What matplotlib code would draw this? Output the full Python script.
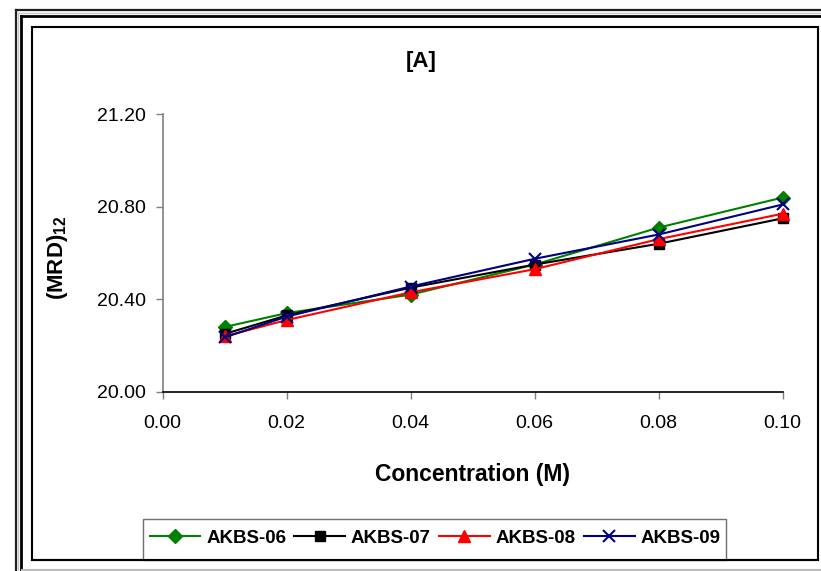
import matplotlib
matplotlib.use("Agg")
import matplotlib.pyplot as plt
from matplotlib.lines import Line2D
from matplotlib.patches import Rectangle

plt.rcParams['font.family'] = ['Liberation Sans', 'DejaVu Sans']
plt.rcParams['mathtext.fontset'] = 'custom'
plt.rcParams['mathtext.rm'] = 'Liberation Sans'
plt.rcParams['mathtext.bf'] = 'Liberation Sans:bold'

# Concentration (M) and molar refraction values per sample
concentration = [0.01, 0.02, 0.04, 0.06, 0.08, 0.10]
akbs_06 = [20.28, 20.34, 20.42, 20.55, 20.71, 20.84]
akbs_07 = [20.25, 20.33, 20.45, 20.55, 20.64, 20.75]
akbs_08 = [20.24, 20.31, 20.43, 20.53, 20.66, 20.77]
akbs_09 = [20.235, 20.325, 20.455, 20.575, 20.68, 20.81]

series_names = ["AKBS-06", "AKBS-07", "AKBS-08", "AKBS-09"]
x_ticks = [0.00, 0.02, 0.04, 0.06, 0.08, 0.10]
y_ticks = [20.00, 20.40, 20.80, 21.20]

W, H = 821, 571
fig = plt.figure(figsize=(W / 100, H / 100), dpi=100)


def fx(px):
    return px / W


def fy(py):
    return 1 - py / H


ax = fig.add_axes([fx(162.7), fy(391.7), fx(782.7) - fx(162.7), fy(114.3) - fy(391.7)])

styles = [
    dict(color="#008000", marker="D", markersize=7),
    dict(color="#000000", marker="s", markersize=6.5),
    dict(color="#FF0000", marker="^", markersize=8.5),
    dict(color="#000080", marker="x", markersize=8, markeredgewidth=1.5),
]
handles = []
for name, vals, st in zip(series_names, [akbs_06, akbs_07, akbs_08, akbs_09], styles):
    h, = ax.plot(concentration, vals, linewidth=1.5, label=name, clip_on=False, **st)
    handles.append(h)

ax.set_xlim(0.0, 0.10)
ax.set_ylim(20.0, 21.2)
ax.set_xticks(x_ticks)
ax.set_xticklabels([f"{v:.2f}" for v in x_ticks])
ax.set_yticks(y_ticks)
ax.set_yticklabels([f"{v:.2f}" for v in y_ticks])

for s in ("top", "right"):
    ax.spines[s].set_visible(False)
ax.spines["left"].set_color("#808080")
ax.spines["left"].set_linewidth(1.2)
ax.spines["bottom"].set_color("#000000")
ax.spines["bottom"].set_linewidth(1.2)
ax.tick_params(axis="both", direction="out", length=5, width=1, color="#808080",
               labelsize=14)
ax.tick_params(axis="x", pad=12)
ax.tick_params(axis="y", pad=7)

ax.set_xlabel("Concentration (M)", fontsize=16.5, fontweight="bold", labelpad=22)
fig.text(fx(58), fy(258), r"$\mathbf{(MRD)}_{\mathbf{12}}$", rotation=90, fontsize=16,
         ha="center", va="center")
fig.text(fx(421), fy(61), "[A]", fontsize=16, fontweight="bold", ha="center", va="center")

# Decorative borders
def hline(y, x0, x1, color, lw):
    fig.add_artist(Line2D([fx(x0), fx(x1)], [fy(y), fy(y)], color=color, linewidth=lw,
                          transform=fig.transFigure))


def vline(x, y0, y1, color, lw):
    fig.add_artist(Line2D([fx(x), fx(x)], [fy(y0), fy(y1)], color=color, linewidth=lw,
                          transform=fig.transFigure))


hline(9.5, 15.5, W, "#202020", 1.6)
hline(12.5, 18, W, "#c8c8c8", 1.0)
hline(16, 21, W, "#000000", 2.0)
vline(15.5, 9.5, H, "#202020", 1.6)
vline(18.3, 12.5, H, "#c8c8c8", 1.0)
vline(21, 16, H, "#000000", 2.0)
hline(569.5, 22, W, "#bdbdbd", 1.5)

fig.add_artist(Rectangle((fx(32), fy(560)), fx(818) - fx(32), fy(27) - fy(560),
                         fill=False, edgecolor="#000000", linewidth=1.5,
                         transform=fig.transFigure))

# Legend box
fig.add_artist(Rectangle((fx(143), fy(560)), fx(726) - fx(143), fy(519) - fy(560),
                         fill=True, facecolor="white", edgecolor="#707070", linewidth=1.0,
                         transform=fig.transFigure, zorder=2))
leg = fig.legend(handles=handles, labels=series_names, loc="center",
                 bbox_to_anchor=(fx(435), fy(538)), ncol=4, frameon=False,
                 prop=dict(size=13.5, weight="bold"), handlelength=2.7,
                 handletextpad=0.3, columnspacing=0.45, borderpad=0.2)
leg.set_zorder(3)
hline(560, 32, 818, "#000000", 1.5)

fig.savefig("out.png", dpi=100)
